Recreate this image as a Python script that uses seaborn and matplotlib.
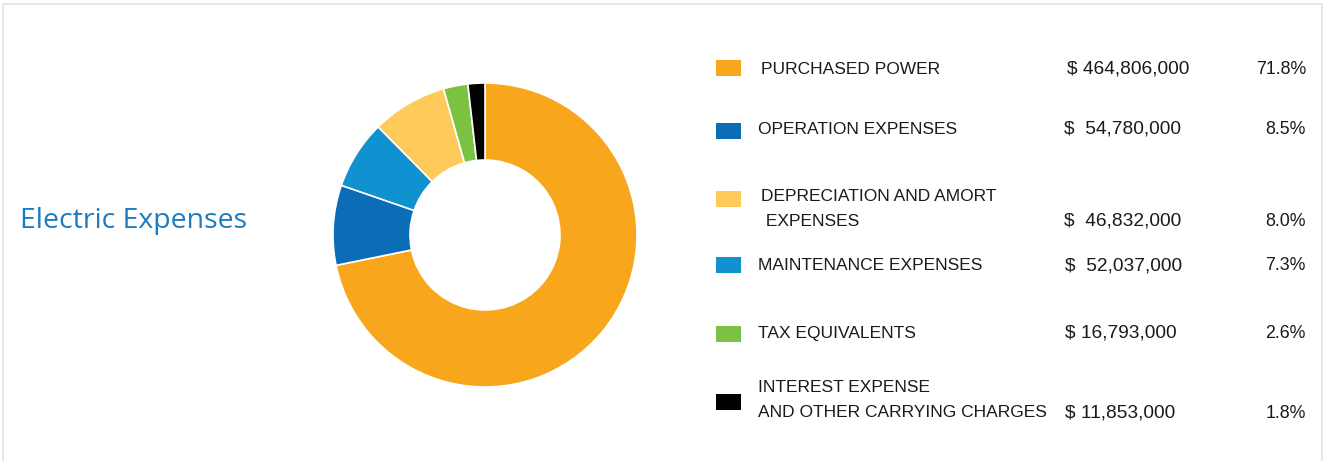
import matplotlib
matplotlib.use("Agg")
import matplotlib.pyplot as plt
from matplotlib.patches import Rectangle
import seaborn as sns

# ---- data ----
categories = ["PURCHASED POWER", "OPERATION EXPENSES", "DEPRECIATION AND AMORT\n EXPENSES",
              "MAINTENANCE EXPENSES", "TAX EQUIVALENTS", "INTEREST EXPENSE\nAND OTHER CARRYING CHARGES"]
amounts = ["$ 464,806,000", "$  54,780,000", "$  46,832,000", "$  52,037,000", "$ 16,793,000", "$ 11,853,000"]
percents = [71.8, 8.5, 8.0, 7.3, 2.6, 1.8]
colors = ["#F8A61C", "#0B6DB5", "#FECB5B", "#1192D0", "#7CC242", "#000000"]
# order in which wedges appear clockwise from top
wedge_order = [0, 1, 3, 2, 4, 5]
title = "Electric Expenses"

sns.set_theme(style="white")
plt.rcParams['font.family'] = ['Liberation Sans', 'DejaVu Sans']

W, H = 1325, 461
fig = plt.figure(figsize=(W / 100, H / 100), dpi=100)
fig.patch.set_facecolor("white")

# light frame
fig.add_artist(Rectangle((2.5 / W, -5 / H), (1322 - 2.5) / W, (456.5 + 5) / H,
                         transform=fig.transFigure, fill=False, edgecolor="#E3E3E3", linewidth=1.2))

# donut
cx, cy, half = 485, 235, 160
ax = fig.add_axes([(cx - half) / W, (H - cy - half) / H, 2 * half / W, 2 * half / H])
vals = [percents[i] for i in wedge_order]
cols = [colors[i] for i in wedge_order]
ax.pie(vals, colors=cols, startangle=90, counterclock=False, radius=152 / half,
       wedgeprops=dict(width=77 / half, edgecolor="white", linewidth=1.2))
ax.set_xlim(-1, 1)
ax.set_ylim(-1, 1)
ax.set_aspect("equal")
ax.axis("off")

# title
fig.text(20 / W, 1 - 221 / H, title, color="#1A7CC3", fontsize=20.5,
         family=["Open Sans", "DejaVu Sans"], va="center", ha="left")

# legend table
sq_y = [68, 131, 199, 265, 334, 402]
text_x = [761, 758, 761, 758, 758, 758]
text_y = [69, 129, 209, 266, 333, 400]
amt_x = [1067, 1064, 1064, 1065, 1065, 1065]
amt_y = [69, 129, 221, 266, 333, 413]
pct_x = 1306
for i, cat in enumerate(categories):
    fig.add_artist(Rectangle((716 / W, 1 - (sq_y[i] + 8) / H), 25 / W, 16 / H,
                             transform=fig.transFigure, facecolor=colors[i], edgecolor="none"))
    fig.text(text_x[i] / W, 1 - text_y[i] / H, cat, fontsize=12.5, color="#1a1a1a",
             va="center", ha="left", linespacing=1.8)
    fig.text(amt_x[i] / W, 1 - amt_y[i] / H, amounts[i], fontsize=13.8, color="#1a1a1a",
             va="center", ha="left")
    fig.text(pct_x / W, 1 - amt_y[i] / H, f"{percents[i]:.1f}%", fontsize=12.8, color="#1a1a1a",
             va="center", ha="right")

fig.savefig("out.png", dpi=100, facecolor="white")
